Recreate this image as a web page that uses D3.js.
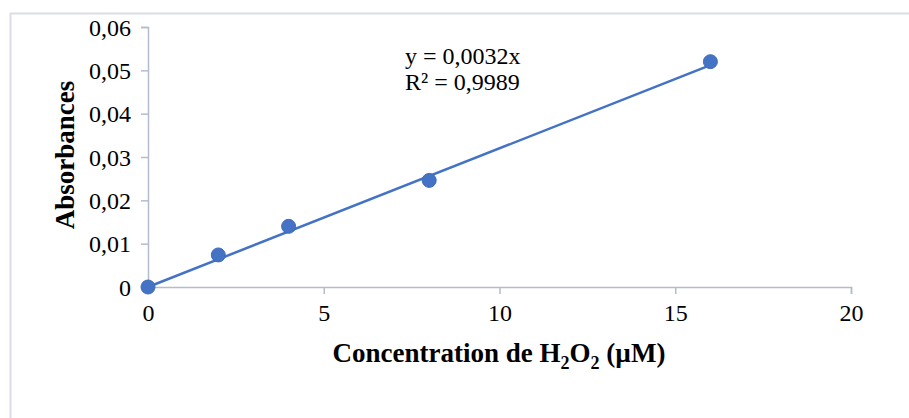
<!DOCTYPE html>
<html>
<head>
<meta charset="utf-8">
<script src="https://cdn.jsdelivr.net/npm/d3@7"></script>
<style>
  body { margin: 0; background: #fff; }
  svg { display: block; font-family: "Liberation Serif", "Times New Roman", serif; }
</style>
</head>
<body>
<div class="container"></div>
<script>
const w = 909;
const h = 418;

// data
const concentrations = [0, 2, 4, 8, 16];
const absorbances = [0, 0.0074, 0.0140, 0.0246, 0.0520];
const slope = 0.0032;
const xTicks = [0, 5, 10, 15, 20];
const yTicks = [0, 0.01, 0.02, 0.03, 0.04, 0.05, 0.06];
const equationLines = ["y = 0,0032x", "R² = 0,9989"];

const fmt = d => d === 0 ? "0" : d3.format(".2f")(d).replace(".", ",");

const svg = d3.select(".container")
          .append("svg")
          .attr("width", w)
          .attr("height", h);

// chart frame
svg.append("rect")
   .attr("x", 10.5)
   .attr("y", 13.5)
   .attr("width", 1000)
   .attr("height", 1000)
   .attr("fill", "none")
   .attr("stroke", "#d9dde5")
   .attr("stroke-width", 2);

const xScale = d3.scaleLinear()
                 .domain([0, 20])
                 .range([148, 851]);

const yScale = d3.scaleLinear()
                 .domain([0, 0.06])
                 .range([287, 27]);

const axisColor = "#b4bccb";

const xAxis = d3.axisBottom(xScale).tickValues(xTicks).tickSize(7).tickPadding(9).tickFormat(d => d);
const gx = svg.append("g")
   .attr("id", "x-axis")
   .attr("transform", "translate(0," + yScale(0) + ")")
   .call(xAxis);

const yAxis = d3.axisLeft(yScale).tickValues(yTicks).tickSize(7).tickPadding(10).tickFormat(fmt);
const gy = svg.append("g")
   .attr("id", "y-axis")
   .attr("transform", "translate(" + xScale(0) + ",0)")
   .call(yAxis);

[gx, gy].forEach(g => {
    g.select(".domain").attr("stroke", axisColor).attr("stroke-width", 1.5);
    g.selectAll(".tick line").attr("stroke", axisColor).attr("stroke-width", 1.5);
    g.selectAll(".tick text")
     .attr("fill", "#000")
     .style("font-family", "Liberation Serif")
     .style("font-size", "24px");
});
gy.selectAll(".tick text").attr("dy", "0.34em");
gx.selectAll(".tick text").attr("dy", "0.75em");

// trendline
svg.append("line")
   .attr("x1", xScale(0))
   .attr("y1", yScale(0))
   .attr("x2", xScale(d3.max(concentrations)))
   .attr("y2", yScale(slope * d3.max(concentrations)))
   .attr("stroke", "#4472c4")
   .attr("stroke-width", 2.5);

// points
svg.selectAll("circle")
   .data(concentrations)
   .enter()
   .append("circle")
   .attr("cx", d => xScale(d))
   .attr("cy", (d, i) => yScale(absorbances[i]))
   .attr("r", 7)
   .attr("fill", "#4472c4")
   .attr("stroke", "#3f6bbb")
   .attr("stroke-width", 1);

// equation
const eq = svg.append("text")
   .attr("x", 405)
   .attr("y", 64)
   .style("font-size", "24px")
   .attr("fill", "#000");
equationLines.forEach((t, i) => {
    eq.append("tspan").attr("x", 405).attr("dy", i === 0 ? 0 : 26).text(t);
});

// axis titles
svg.append("text")
   .attr("transform", "translate(74,155) rotate(-90)")
   .attr("text-anchor", "middle")
   .style("font-size", "27px")
   .style("font-weight", "bold")
   .text("Absorbances");

const xt = svg.append("text")
   .attr("x", 499)
   .attr("y", 362)
   .attr("text-anchor", "middle")
   .style("font-size", "27px")
   .style("font-weight", "bold");
xt.append("tspan").text("Concentration de H");
xt.append("tspan").attr("dy", 7).style("font-size", "18px").text("2");
xt.append("tspan").attr("dy", -7).text("O");
xt.append("tspan").attr("dy", 7).style("font-size", "18px").text("2");
xt.append("tspan").attr("dy", -7).text(" (µM)");
</script>
</body>
</html>
